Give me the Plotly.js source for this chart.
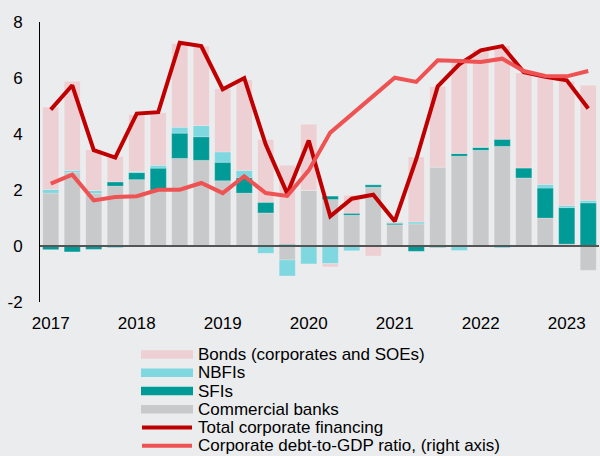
<!DOCTYPE html>
<html>
<head>
<meta charset="utf-8">
<script src="https://cdn.plot.ly/plotly-3.0.1.min.js"></script>
<style>
  html, body { margin: 0; padding: 0; background: #ebecee; }
  #chart { width: 600px; height: 456px; }
</style>
</head>
<body>
<div id="chart"></div>
<script>
// ---- Data ----
const quarters = ['2017Q1','2017Q2','2017Q3','2017Q4','2018Q1','2018Q2','2018Q3','2018Q4',
  '2019Q1','2019Q2','2019Q3','2019Q4','2020Q1','2020Q2','2020Q3','2020Q4',
  '2021Q1','2021Q2','2021Q3','2021Q4','2022Q1','2022Q2','2022Q3','2022Q4','2023Q1','2023Q2'];

const commercialBanks = [1.89, 2.63, 1.88, 2.14, 2.37, 2.00, 3.13, 3.06, 2.33, 1.89, 1.18, -0.50, 1.99,
  1.66, 1.10, 2.10, 0.76, 0.79, 2.82, 3.21, 3.42, 3.56, 2.43, 1.00, 0.07, -0.87];
const sfis = [-0.13, -0.21, -0.12, 0.15, 0.25, 0.78, 0.90, 0.84, 0.66, 0.55, 0.38, 0.06, 0.00,
  0.12, 0.07, 0.09, 0.05, -0.19, -0.05, 0.09, 0.10, 0.25, 0.36, 1.07, 1.30, 1.54];
const nbfis = [0.13, 0.07, 0.10, -0.07, 0.04, 0.10, 0.21, 0.40, 0.37, 0.26, -0.26, -0.57, -0.64,
  -0.63, -0.17, 0.00, 0.03, 0.07, 0.00, -0.16, 0.02, -0.07, 0.00, 0.13, 0.08, 0.09];
const bonds = [2.94, 3.18, 1.46, 0.91, 2.03, 1.88, 2.99, 2.84, 2.26, 3.24, 2.24, 2.82, 2.36,
  -0.12, 0.64, -0.36, 0.04, 2.32, 2.88, 3.30, 3.47, 3.33, 3.39, 3.81, 4.43, 4.11];
const totalFinancing = [4.87, 5.74, 3.42, 3.16, 4.73, 4.78, 7.26, 7.14, 5.60, 6.00, 3.62, 1.87, 3.77,
  1.06, 1.69, 1.83, 0.88, 3.10, 5.70, 6.49, 6.99, 7.14, 6.21, 6.04, 5.92, 4.91];
// right axis is cropped in the reference; values read in left-axis units
const debtToGdpRatio = [2.23, 2.55, 1.63, 1.75, 1.78, 2.01, 2.01, 2.25, 1.89, 2.49, 1.89, 1.79, 2.70,
  4.05, 4.70, 5.36, 6.01, 5.86, 6.63, 6.61, 6.57, 6.69, 6.25, 6.07, 6.06, 6.25];

const yearTickVals = ['2017Q1','2018Q1','2019Q1','2020Q1','2021Q1','2022Q1','2023Q1'];
const yearTickText = ['2017','2018','2019','2020','2021','2022','2023'];
const yTickVals = [-2, 0, 2, 4, 6, 8];
const yTickText = ['-2', '0', '2', '4', '6', '8'];

const legendLabels = ['Bonds (corporates and SOEs)', 'NBFIs', 'SFIs', 'Commercial banks',
  'Total corporate financing', 'Corporate debt-to-GDP ratio, (right axis)'];

// ---- Styles ----
const C = {
  bg: '#ebecee', bonds: '#ecd0d3', nbfi: '#7fd7e0', sfi: '#009a97', cb: '#c8c9cb',
  total: '#c00000', ratio: '#ef5252'
};
const FONT = 'Liberation Sans, Arial, sans-serif';
const barLine = { width: 0.6, color: 'rgba(255,255,255,0.35)' };

function bar(name, y, color) {
  return { type: 'bar', name: name, x: quarters, y: y, marker: { color: color, line: barLine },
    showlegend: false, hoverinfo: 'x+y+name' };
}

const traces = [
  bar('Commercial banks', commercialBanks, C.cb),
  bar('SFIs', sfis, C.sfi),
  bar('NBFIs', nbfis, C.nbfi),
  bar('Bonds (corporates and SOEs)', bonds, C.bonds),
  { type: 'scatter', mode: 'lines', name: 'Total corporate financing', x: quarters, y: totalFinancing,
    line: { color: C.total, width: 4, shape: 'linear' }, showlegend: false },
  { type: 'scatter', mode: 'lines', name: 'Corporate debt-to-GDP ratio, (right axis)', x: quarters,
    y: debtToGdpRatio, yaxis: 'y2', line: { color: C.ratio, width: 4 }, showlegend: false }
];

// ---- Custom legend (paper coordinates) ----
const plotL = 40, plotR = 599, plotT = 22, plotB = 302;
const px = v => (v - plotL) / (plotR - plotL);
const py = v => (plotB - v) / (plotB - plotT);
const legendColors = [C.bonds, C.nbfi, C.sfi, C.cb, C.total, C.ratio];
const shapes = [];
const annotations = [];
legendLabels.forEach((lab, i) => {
  const yc = 354.5 + i * 18.25;
  if (i < 4) {
    shapes.push({ type: 'rect', xref: 'paper', yref: 'paper', x0: px(141), x1: px(193),
      y0: py(yc - 4.3), y1: py(yc + 4.3), fillcolor: legendColors[i], line: { width: 0 } });
  } else {
    shapes.push({ type: 'line', xref: 'paper', yref: 'paper', x0: px(142), x1: px(192),
      y0: py(yc), y1: py(yc), line: { color: legendColors[i], width: 4 } });
  }
  annotations.push({ xref: 'paper', yref: 'paper', x: px(195.5), y: py(yc), xanchor: 'left',
    yanchor: 'middle', text: lab, showarrow: false, font: { family: FONT, size: 17, color: '#000' } });
});

const layout = {
  width: 600, height: 456,
  margin: { l: plotL, r: 600 - plotR, t: plotT, b: 456 - plotB, pad: 0 },
  paper_bgcolor: C.bg, plot_bgcolor: C.bg,
  barmode: 'relative', bargap: 0.25,
  font: { family: FONT, size: 17, color: '#000' },
  showlegend: false,
  xaxis: {
    type: 'category', categoryorder: 'array', categoryarray: quarters,
    range: [-0.5, quarters.length - 0.5],
    tickmode: 'array', tickvals: yearTickVals, ticktext: yearTickText,
    showgrid: false, zeroline: false, showline: false, ticks: '',
    tickfont: { family: FONT, size: 17, color: '#000' }, ticklabelstandoff: 9, fixedrange: true
  },
  yaxis: {
    range: [-2, 8], tickmode: 'array', tickvals: yTickVals, ticktext: yTickText,
    showgrid: false, showline: true, linecolor: '#000', linewidth: 1, ticks: '',
    zeroline: true, zerolinecolor: '#555555', zerolinewidth: 1.5, zerolinelayer: 'above traces',
    tickfont: { family: FONT, size: 17, color: '#000' }, ticklabelstandoff: 13, fixedrange: true
  },
  yaxis2: {
    overlaying: 'y', side: 'right', range: [-2, 8], visible: false, showgrid: false, zeroline: false
  },
  shapes: shapes,
  annotations: annotations
};

Plotly.newPlot('chart', traces, layout, { displayModeBar: false, staticPlot: true });
</script>
</body>
</html>
